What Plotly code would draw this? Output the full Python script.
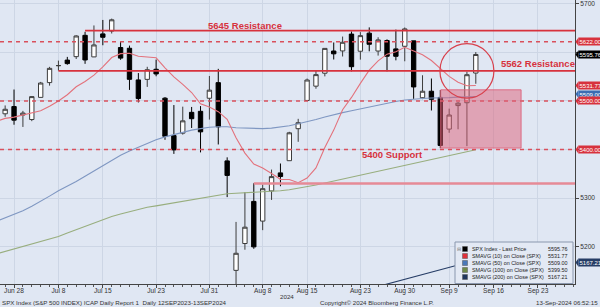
import plotly.graph_objects as go

# ---------------- data ----------------
dates = ["Jun 26", "Jun 27", "Jun 28", "Jul 1", "Jul 2", "Jul 3", "Jul 5", "Jul 8", "Jul 9", "Jul 10",
         "Jul 11", "Jul 12", "Jul 15", "Jul 16", "Jul 17", "Jul 18", "Jul 19", "Jul 22", "Jul 23", "Jul 24",
         "Jul 25", "Jul 26", "Jul 29", "Jul 30", "Jul 31", "Aug 1", "Aug 2", "Aug 5", "Aug 6", "Aug 7",
         "Aug 8", "Aug 9", "Aug 12", "Aug 13", "Aug 14", "Aug 15", "Aug 16", "Aug 19", "Aug 20", "Aug 21",
         "Aug 22", "Aug 23", "Aug 26", "Aug 27", "Aug 28", "Aug 29", "Aug 30", "Sep 3", "Sep 4", "Sep 5",
         "Sep 6", "Sep 9", "Sep 10", "Sep 11", "Sep 12"]
future_dates = ["Sep 13", "Sep 16", "Sep 17", "Sep 18", "Sep 19", "Sep 20", "Sep 23", "Sep 24",
                "Sep 25", "Sep 26", "Sep 27"]

opens = [5460.7, 5473.6, 5488.5, 5471.1, 5461.8, 5507.4, 5537.9, 5572.8, 5584.2, 5591.3,
         5635.2, 5590.8, 5638.2, 5644.1, 5610.1, 5608.6, 5543.4, 5544.5, 5565.3, 5505.8,
         5428.7, 5433.7, 5476.6, 5478.7, 5505.6, 5537.8, 5376.6, 5151.1, 5206.4, 5293.1,
         5252.6, 5314.7, 5351.9, 5377.0, 5442.9, 5501.1, 5530.5, 5557.2, 5602.9, 5603.1,
         5637.8, 5602.5, 5639.7, 5602.9, 5624.5, 5607.3, 5612.7, 5623.9, 5506.7, 5520.1,
         5507.3, 5442.1, 5490.5, 5496.4, 5557.5]
highs = [5483.1, 5490.8, 5523.6, 5479.6, 5509.7, 5539.3, 5570.3, 5583.1, 5590.8, 5635.4,
         5642.5, 5655.6, 5666.9, 5669.7, 5622.5, 5614.1, 5557.5, 5570.4, 5585.3, 5508.0,
         5491.6, 5488.3, 5487.7, 5489.5, 5551.5, 5566.2, 5383.9, 5250.9, 5312.3, 5330.6,
         5328.0, 5358.7, 5371.2, 5436.5, 5463.2, 5546.2, 5562.0, 5608.3, 5620.5, 5632.7,
         5643.2, 5641.8, 5651.6, 5631.2, 5627.0, 5647.0, 5651.4, 5623.9, 5553.0, 5546.3,
         5522.5, 5484.2, 5497.9, 5560.4, 5600.7]
lows = [5451.9, 5467.5, 5451.1, 5446.5, 5458.4, 5507.4, 5531.6, 5562.5, 5574.6, 5586.4,
        5576.5, 5590.4, 5614.8, 5639.0, 5584.8, 5522.8, 5497.0, 5529.0, 5550.9, 5420.0,
        5391.0, 5430.7, 5444.4, 5394.1, 5461.7, 5410.4, 5302.0, 5119.3, 5193.6, 5195.5,
        5233.9, 5296.2, 5324.4, 5377.0, 5415.9, 5501.1, 5525.2, 5550.7, 5585.5, 5591.6,
        5561.0, 5585.2, 5602.3, 5593.5, 5561.0, 5583.7, 5581.8, 5504.3, 5503.7, 5480.4,
        5402.6, 5434.5, 5441.7, 5407.0, 5535.5]
closes = [5477.9, 5482.9, 5460.5, 5475.1, 5509.0, 5537.0, 5567.2, 5572.9, 5577.0, 5633.9,
          5584.5, 5615.4, 5631.2, 5667.2, 5588.3, 5544.6, 5505.0, 5564.4, 5555.7, 5427.1,
          5399.2, 5459.1, 5463.5, 5436.4, 5522.3, 5446.7, 5346.6, 5186.3, 5240.0, 5199.5,
          5319.3, 5344.2, 5344.4, 5434.4, 5455.2, 5543.2, 5554.3, 5608.3, 5597.1, 5620.9,
          5570.6, 5634.6, 5616.8, 5625.8, 5592.2, 5592.0, 5648.4, 5528.9, 5520.1, 5503.4,
          5408.4, 5471.1, 5495.5, 5554.1, 5595.8]

sma10 = [5458.0, 5464.1, 5466.8, 5471.2, 5474.7, 5479.7, 5489.1, 5500.0, 5512.9, 5529.3,
         5540.0, 5553.2, 5570.3, 5589.5, 5597.5, 5598.2, 5592.0, 5591.2, 5589.0, 5568.4,
         5549.8, 5534.2, 5517.4, 5494.3, 5487.8, 5478.0, 5462.1, 5424.3, 5392.7, 5370.0,
         5362.0, 5350.5, 5338.6, 5338.4, 5331.7, 5341.3, 5362.1, 5404.3, 5440.0, 5482.1,
         5507.3, 5536.3, 5563.5, 5582.7, 5596.4, 5601.3, 5610.7, 5602.7, 5595.0, 5583.3,
         5567.1, 5550.7, 5538.6, 5531.4, 5531.8]
sma50 = [5252, 5259, 5266, 5274, 5283, 5293, 5304, 5315, 5324, 5334,
         5345, 5356, 5367, 5378, 5388, 5397, 5405, 5413, 5420, 5426,
         5431, 5436, 5440, 5443, 5446, 5447, 5447, 5445, 5444, 5443,
         5443, 5444, 5446, 5449, 5453, 5457, 5462, 5467, 5472, 5476,
         5480, 5484, 5488, 5492, 5496, 5499, 5502, 5504, 5505, 5506,
         5506, 5507, 5508, 5508, 5509.0]
sma100 = [5185, 5190, 5195, 5200, 5205, 5210, 5215, 5221, 5228, 5235,
          5242, 5249, 5256, 5262, 5267, 5272, 5277, 5281, 5284, 5287,
          5290, 5293, 5297, 5300, 5303, 5306, 5309, 5310, 5311, 5311,
          5312, 5313, 5315, 5317, 5320, 5323, 5327, 5331, 5335, 5339,
          5343, 5347, 5351, 5355, 5359, 5363, 5368, 5372, 5375, 5379,
          5383, 5387, 5391, 5395, 5399.5]
sma200 = [None] * 38 + [5090, 5096, 5102, 5107, 5113, 5118, 5123, 5128, 5133, 5138,
                        5143, 5147, 5152, 5157, 5162, 5164.5, 5167.2]

tick_labels = ["Jun 28", "Jul 8", "Jul 15", "Jul 23", "Jul 31", "Aug 8", "Aug 15", "Aug 23",
               "Aug 30", "Sep 9", "Sep 16", "Sep 23"]
y_ticks = [5200, 5300, 5400, 5500, 5600, 5700]
y_tick_text = ["5200", "5300", "", "", "", "5700"]

resistance_levels = [5645, 5562]
resistance_start = ["Jul 11", "Jul 8"]
dashed_levels = [5622, 5500, 5400]
support_level = 5330
support_start = "Aug 7"
zone_dates = ["Sep 6", "Sep 19"]
zone_levels = [5403, 5523]

last_labels = ["5622.00", "5595.76", "5531.77", "5509.00", "5500.00", "5400.00", "5167.21"]
last_values = [5622.0, 5595.76, 5531.77, 5509.0, 5500.0, 5400.0, 5167.21]

legend_names = ["SPX Index - Last Price", "SMAVG (10) on Close (SPX)", "SMAVG (50) on Close (SPX)",
                "SMAVG (100) on Close (SPX)", "SMAVG (200) on Close (SPX)"]
legend_values = ["5595.76", "5531.77", "5509.00", "5399.50", "5167.21"]

# ---------------- positions ----------------
all_dates = dates + future_dates
pos = {d: i - 2 for i, d in enumerate(all_dates)}
xs = [pos[d] for d in dates]
X0, X1 = -1.58, 63.17
Y0, Y1 = 5123, 5708
PW, PH = 575.0, 284.0  # plot area in px

def px(xp):
    return xp / PW

def py(yp):
    return 1 - yp / PH

RED = "#d7323d"
C10 = "#e3727c"
C50 = "#7f97c2"
C100 = "#98ae7e"
C200 = "#263d66"
FONT = "Liberation Sans, Arial"

fig = go.Figure()
fig.add_trace(go.Candlestick(
    x=xs, open=opens, high=highs, low=lows, close=closes,
    increasing=dict(line=dict(color="#3c3c3c", width=1), fillcolor="#ffffff"),
    decreasing=dict(line=dict(color="#000000", width=1), fillcolor="#000000"),
    whiskerwidth=0, hoverinfo="skip"))
for ser, col in [(sma200, C200), (sma100, C100), (sma50, C50), (sma10, C10)]:
    fig.add_trace(go.Scatter(x=xs, y=ser, mode="lines", line=dict(color=col, width=1.1),
                             hoverinfo="skip"))

shapes = []
for lvl in dashed_levels:
    shapes.append(dict(type="line", xref="x", yref="y", x0=X0, x1=X1, y0=lvl, y1=lvl,
                       line=dict(color="#d9505c", width=1.5, dash="4px,4px")))
for lvl, st in zip(resistance_levels, resistance_start):
    shapes.append(dict(type="line", xref="x", yref="y", x0=pos[st], x1=X1, y0=lvl, y1=lvl,
                       line=dict(color=RED, width=1.6)))
shapes.append(dict(type="line", xref="x", yref="y", x0=pos[support_start], x1=X1,
                   y0=support_level, y1=support_level,
                   line=dict(color="#e68a96", width=2.4)))
shapes.append(dict(type="rect", xref="x", yref="y", x0=pos[zone_dates[0]] + 0.05, x1=pos[zone_dates[1]] + 0.1,
                   y0=zone_levels[0], y1=zone_levels[1],
                   fillcolor="rgba(222,95,120,0.5)", line=dict(color="rgba(222,95,120,0.85)", width=1)))
shapes.append(dict(type="circle", xref="x", yref="y", x0=47.96, x1=54.04, y0=5506, y1=5618,
                   line=dict(color="#d8404c", width=1.2)))

ppt = PH / (Y1 - Y0)  # px per point
box_colors = [RED, "#000000", RED, "#3b6db3", RED, RED, C200]
box_offsets = [0, 0, 0, -2.5, 0, 0, 0]
annotations = []
for lab, v, c, off in zip(last_labels, last_values, box_colors, box_offsets):
    h = 4.2 / ppt
    vv = v - off / ppt
    shapes.append(dict(type="path", xref="paper", yref="y",
                       path=f"M {px(575.5)},{vv} L {px(578.5)},{vv + h} L {px(578.5)},{vv - h} Z",
                       fillcolor=c, line=dict(width=0)))
    annotations.append(dict(xref="paper", yref="y", x=px(578), y=vv, xanchor="left", yanchor="middle",
                            text=lab, showarrow=False, bgcolor=c, borderpad=0.5,
                            font=dict(family=FONT, size=6.0, color="white")))

# legend box
shapes.append(dict(type="rect", xref="paper", yref="paper", x0=px(455), x1=px(573), y0=py(283.5), y1=py(242),
                   fillcolor="#e3e9f4", line=dict(color="#8a97ad", width=1)))
leg_cols = ["#000000", "#e0303a", "#4a78b8", "#6e8a48", "#1f355c"]
leg_y = [249, 256, 263, 270, 277]
for name, val, col, yy in zip(legend_names, legend_values, leg_cols, leg_y):
    shapes.append(dict(type="rect", xref="paper", yref="paper", x0=px(462.5), x1=px(467.5),
                       y0=py(yy + 2.5), y1=py(yy - 2.5), fillcolor=col, line=dict(color="#555", width=0.5)))
    annotations.append(dict(xref="paper", yref="paper", x=px(469.5), y=py(yy), xanchor="left", yanchor="middle",
                            text=name, showarrow=False,
                            font=dict(family=FONT, size=5.4, color="#222")))
    annotations.append(dict(xref="paper", yref="paper", x=px(570), y=py(yy), xanchor="right", yanchor="middle",
                            text=val, showarrow=False,
                            font=dict(family=FONT, size=5.4, color="#222")))
annotations.append(dict(xref="paper", yref="paper", x=px(459), y=py(249), xanchor="center", yanchor="middle",
                        text="⊟", showarrow=False, font=dict(family="DejaVu Sans", size=5, color="#777")))

# chart annotations
tfont = dict(family=FONT, size=9.5, color=RED)
annotations.append(dict(xref="x", yref="y", x=26.0, y=5655, text="<b>5645 Resistance</b>", showarrow=False,
                        xanchor="center", yanchor="middle", font=tfont))
annotations.append(dict(xref="x", yref="y", x=59.0, y=5577, text="<b>5562 Resistance</b>", showarrow=False,
                        xanchor="center", yanchor="middle", font=tfont))
annotations.append(dict(xref="x", yref="y", x=42.6, y=5389, text="<b>5400 Support</b>", showarrow=False,
                        xanchor="center", yanchor="middle", font=tfont))

sfont = dict(family=FONT, size=6.2, color="#333")
annotations.append(dict(xref="paper", yref="paper", x=px(287), y=py(296.5), text="2024", showarrow=False,
                        xanchor="center", yanchor="middle", font=sfont))
annotations.append(dict(xref="paper", yref="paper", x=0, y=py(302.5),
                        text="SPX Index (S&P 500 INDEX) ICAP Daily Report 1  Daily 12SEP2023-13SEP2024",
                        showarrow=False, xanchor="left", yanchor="middle", font=sfont))
annotations.append(dict(xref="paper", yref="paper", x=px(318), y=py(302.5),
                        text="Copyright© 2024 Bloomberg Finance L.P.",
                        showarrow=False, xanchor="left", yanchor="middle", font=sfont))
annotations.append(dict(xref="paper", yref="paper", x=px(600), y=py(302.5),
                        text="13-Sep-2024 06:52:15",
                        showarrow=False, xanchor="right", yanchor="middle", font=sfont))

BG = "#e0e7f3"
fig.update_layout(
    width=600, height=307, margin=dict(l=0, r=25, t=0, b=23),
    paper_bgcolor=BG, plot_bgcolor=BG, showlegend=False,
    shapes=shapes, annotations=annotations,
    xaxis=dict(range=[X0, X1], rangeslider=dict(visible=False),
               tickvals=[pos[d] for d in tick_labels], ticktext=tick_labels,
               ticks="outside", ticklen=3, tickcolor="#444", ticklabelstandoff=-3,
               minor=dict(dtick=1, tick0=0, ticks="outside", ticklen=2, tickcolor="#555", showgrid=False),
               showgrid=True, gridcolor="#cdd6e5", gridwidth=1,
               showline=True, linecolor="#444", linewidth=1, zeroline=False,
               tickfont=dict(family=FONT, size=6.6, color="#333")),
    yaxis=dict(range=[Y0, Y1], side="right", tickvals=y_ticks, ticktext=y_tick_text,
               ticks="outside", ticklen=3, tickcolor="#444",
               showgrid=True, gridcolor="#cdd6e5", gridwidth=1,
               showline=True, linecolor="#444", linewidth=1, zeroline=False,
               tickfont=dict(family=FONT, size=6.6, color="#333")),
)

fig.write_html("out.html")
